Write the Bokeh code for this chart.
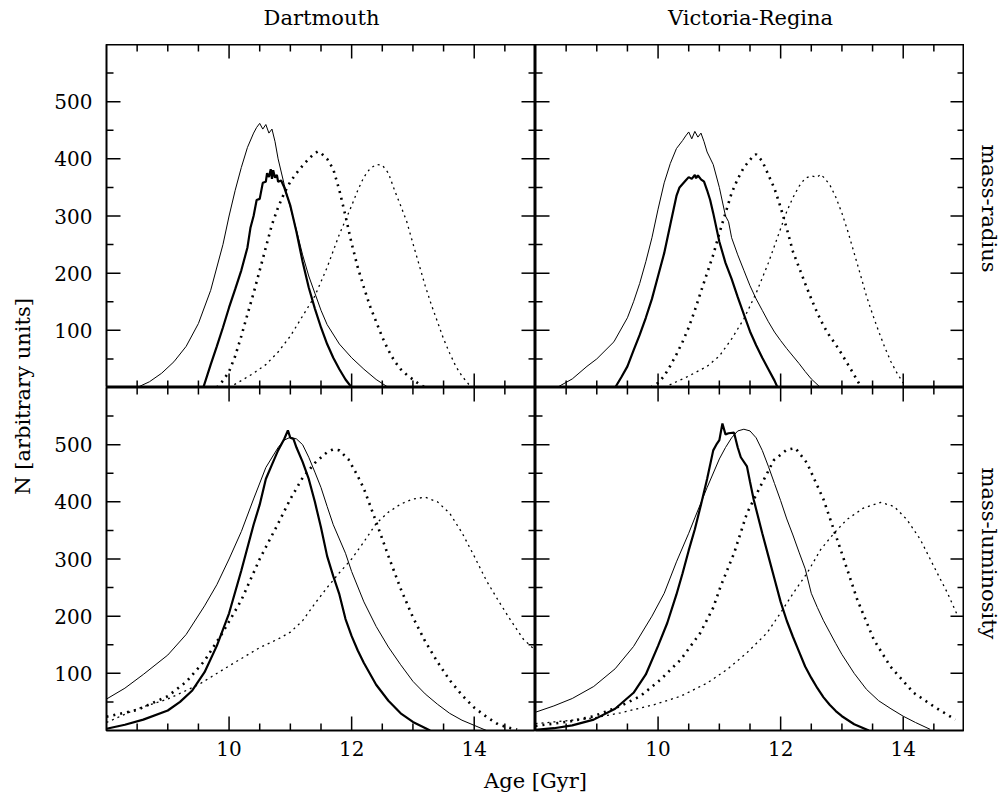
import math
from bokeh.plotting import figure
from bokeh.layouts import row, column
from bokeh.models import FixedTicker, LinearAxis, Range1d, Label
from bokeh.embed import file_html
from bokeh.resources import INLINE

FONT = "DejaVu Serif"

# ---------------- axes ----------------
X_START, X_END = 8, 15
Y_START, Y_END = 0, 600
X_MAJOR = [10, 12, 14]
X_MINOR = [8.5, 9, 9.5, 10.5, 11, 11.5, 12.5, 13, 13.5, 14.5]
Y_MAJOR = [100, 200, 300, 400, 500]
Y_MINOR = [50, 150, 250, 350, 450, 550]

# ---------------- Dartmouth, mass-radius ----------------
dmr_thin_age = [8.5, 8.7, 8.9, 9.1, 9.3, 9.5, 9.7, 9.9, 10.0, 10.1, 10.2, 10.3, 10.4, 10.45, 10.5, 10.55,
                10.6, 10.65, 10.7, 10.75, 10.8, 10.9, 11.0, 11.1, 11.2, 11.3, 11.4, 11.5, 11.6, 11.8, 12.0,
                12.2, 12.4, 12.6]
dmr_thin_n = [0, 10, 25, 45, 72, 112, 170, 250, 300, 345, 385, 420, 445, 455, 462, 452,
              460, 445, 452, 430, 400, 355, 315, 275, 232, 195, 165, 135, 110, 76, 52,
              32, 14, 0]
dmr_thick_age = [9.58, 9.7, 9.8, 9.9, 10.0, 10.1, 10.2, 10.3, 10.35, 10.4, 10.45, 10.5, 10.55, 10.6, 10.62,
                 10.65, 10.68, 10.7, 10.72, 10.75, 10.78, 10.8, 10.85, 10.9, 11.0, 11.1, 11.2, 11.3, 11.4,
                 11.5, 11.6, 11.7, 11.8, 11.9, 12.0]
dmr_thick_n = [0, 40, 72, 105, 140, 172, 205, 245, 280, 300, 328, 330, 358, 360, 375,
               368, 382, 365, 380, 367, 372, 360, 362, 350, 318, 272, 220, 175, 138,
               105, 76, 52, 32, 14, 0]
dmr_thickdot_age = [9.8, 9.9, 10.0, 10.1, 10.2, 10.3, 10.4, 10.5, 10.6, 10.7, 10.8, 10.9, 11.0, 11.1, 11.2,
                    11.3, 11.4, 11.45, 11.5, 11.6, 11.7, 11.8, 11.9, 12.0, 12.1, 12.2, 12.3, 12.4, 12.5,
                    12.6, 12.7, 12.8, 12.9, 13.0, 13.1, 13.2]
dmr_thickdot_n = [0, 12, 28, 55, 90, 128, 165, 205, 245, 285, 315, 340, 360, 375, 388,
                  400, 410, 413, 410, 400, 382, 345, 300, 252, 210, 175, 142, 115, 88,
                  65, 46, 32, 22, 14, 6, 0]
dmr_thindot_age = [10.0, 10.2, 10.4, 10.6, 10.8, 11.0, 11.2, 11.4, 11.6, 11.8, 12.0, 12.1, 12.2, 12.3, 12.4,
                   12.5, 12.6, 12.7, 12.8, 12.9, 13.0, 13.1, 13.2, 13.3, 13.4, 13.5, 13.6, 13.7, 13.8,
                   13.9, 13.95]
dmr_thindot_n = [0, 12, 25, 40, 62, 90, 125, 160, 210, 268, 318, 345, 368, 383, 390,
                 389, 375, 345, 318, 290, 252, 215, 178, 145, 115, 85, 60, 37, 20,
                 7, 0]

# ---------------- Dartmouth, mass-luminosity ----------------
dml_thin_age = [8.0, 8.3, 8.6, 9.0, 9.3, 9.6, 9.8, 10.0, 10.2, 10.4, 10.6, 10.8, 10.9, 11.0, 11.1, 11.2,
                11.3, 11.4, 11.5, 11.6, 11.7, 11.8, 11.9, 12.0, 12.2, 12.4, 12.6, 12.8, 13.0, 13.2, 13.4,
                13.6, 13.8, 14.0, 14.2]
dml_thin_n = [55, 74, 98, 132, 168, 218, 255, 300, 348, 405, 460, 495, 508, 513, 510, 500,
              478, 452, 425, 392, 360, 335, 310, 278, 225, 182, 146, 115, 86, 64, 46,
              30, 18, 9, 0]
dml_thick_age = [8.0, 8.3, 8.6, 9.0, 9.2, 9.4, 9.6, 9.8, 10.0, 10.2, 10.4, 10.5, 10.6, 10.7, 10.8, 10.9,
                 10.96, 11.0, 11.05, 11.1, 11.2, 11.3, 11.4, 11.5, 11.6, 11.7, 11.8, 11.9, 12.0, 12.1,
                 12.2, 12.4, 12.6, 12.8, 13.0, 13.28]
dml_thick_n = [3, 10, 19, 35, 50, 70, 102, 148, 205, 280, 360, 395, 440, 465, 490, 510,
               525, 512, 510, 495, 470, 440, 400, 355, 305, 270, 238, 195, 165, 140,
               118, 80, 52, 30, 15, 0]
dml_thickdot_age = [8.0, 8.5, 9.0, 9.3, 9.6, 9.9, 10.2, 10.5, 10.8, 11.0, 11.2, 11.4, 11.6, 11.7, 11.8,
                    11.95, 12.1, 12.2, 12.4, 12.6, 12.8, 13.0, 13.2, 13.4, 13.6, 13.8, 14.0, 14.2, 14.4,
                    14.6, 14.7]
dml_thickdot_n = [24, 36, 60, 85, 122, 172, 228, 300, 362, 405, 442, 468, 487, 492, 490,
                  474, 445, 423, 365, 305, 248, 198, 156, 120, 88, 62, 40, 24, 10,
                  4, 2]
dml_thindot_age = [8.0, 8.5, 9.0, 9.5, 10.0, 10.5, 10.8, 11.0, 11.2, 11.4, 11.6, 11.8, 12.0, 12.2, 12.4,
                   12.6, 12.8, 13.0, 13.2, 13.4, 13.6, 13.8, 14.0, 14.2, 14.4, 14.6, 14.8, 15.0]
dml_thindot_n = [14, 38, 55, 80, 113, 145, 160, 172, 192, 222, 250, 276, 300, 330, 362,
                 382, 396, 405, 408, 400, 380, 346, 305, 262, 226, 192, 160, 140]

# ---------------- Victoria-Regina, mass-radius ----------------
vmr_thin_age = [8.35, 8.6, 8.84, 9.0, 9.28, 9.5, 9.6, 9.7, 9.8, 9.9, 10.0, 10.1, 10.2, 10.3, 10.4, 10.45,
                10.5, 10.55, 10.6, 10.65, 10.7, 10.75, 10.8, 10.9, 11.0, 11.1, 11.15, 11.2, 11.3, 11.4,
                11.5, 11.6, 11.7, 11.8, 11.9, 12.0, 12.1, 12.2, 12.3, 12.4, 12.5, 12.65]
vmr_thin_n = [0, 15, 37, 50, 80, 122, 150, 182, 220, 262, 312, 358, 392, 418, 432, 440,
              447, 435, 448, 438, 445, 430, 412, 390, 350, 300, 290, 262, 232, 205,
              178, 155, 135, 115, 97, 82, 68, 55, 42, 28, 15, 0]
vmr_thick_age = [9.3, 9.4, 9.5, 9.6, 9.7, 9.8, 9.9, 10.0, 10.1, 10.2, 10.3, 10.35, 10.4, 10.45, 10.5,
                 10.55, 10.6, 10.62, 10.65, 10.7, 10.75, 10.8, 10.85, 10.9, 11.0, 11.1, 11.2, 11.3, 11.4,
                 11.5, 11.6, 11.7, 11.8, 11.9, 11.95]
vmr_thick_n = [0, 18, 37, 65, 92, 122, 155, 195, 235, 285, 335, 350, 356, 362, 368,
               365, 372, 366, 371, 364, 360, 345, 328, 305, 255, 218, 190, 158, 128,
               98, 74, 52, 32, 12, 0]
vmr_thickdot_age = [9.88, 10.0, 10.1, 10.2, 10.3, 10.4, 10.5, 10.6, 10.7, 10.8, 10.9, 11.0, 11.1, 11.2,
                    11.3, 11.4, 11.5, 11.55, 11.6, 11.65, 11.7, 11.8, 11.9, 12.0, 12.1, 12.2, 12.3, 12.4,
                    12.5, 12.6, 12.7, 12.8, 12.9, 13.0, 13.1, 13.2, 13.3]
vmr_thickdot_n = [0, 8, 20, 38, 58, 80, 105, 135, 168, 200, 232, 270, 305, 340,
                  365, 385, 398, 405, 408, 402, 396, 372, 348, 315, 278, 238, 210, 182,
                  155, 130, 108, 90, 75, 58, 40, 22, 3]
vmr_thindot_age = [10.1, 10.3, 10.5, 10.8, 11.0, 11.2, 11.4, 11.6, 11.8, 12.0, 12.1, 12.2, 12.3, 12.4,
                   12.5, 12.6, 12.65, 12.7, 12.8, 12.9, 13.0, 13.1, 13.2, 13.3, 13.4, 13.5, 13.6, 13.7,
                   13.8, 13.9, 14.0, 14.06]
vmr_thindot_n = [0, 10, 20, 37, 55, 85, 120, 165, 218, 278, 308, 332, 352, 366,
                 370, 368, 373, 368, 355, 333, 305, 272, 235, 198, 160, 128, 98, 70,
                 45, 25, 8, 0]

# ---------------- Victoria-Regina, mass-luminosity ----------------
vml_thin_age = [8.0, 8.3, 8.6, 8.95, 9.3, 9.6, 9.9, 10.1, 10.3, 10.5, 10.6, 10.8, 11.0, 11.1, 11.2, 11.3,
                11.4, 11.5, 11.6, 11.7, 11.8, 11.9, 12.0, 12.1, 12.2, 12.3, 12.4, 12.5, 12.6, 12.7, 12.8,
                12.9, 13.0, 13.2, 13.4, 13.6, 13.8, 14.0, 14.2, 14.44]
vml_thin_n = [32, 43, 56, 77, 108, 147, 200, 240, 295, 345, 372, 425, 475, 495, 512, 524,
              527, 524, 512, 490, 462, 432, 402, 370, 342, 312, 283, 240, 215, 192, 172,
              152, 133, 100, 72, 52, 38, 25, 14, 2]
vml_thick_age = [8.0, 8.3, 8.6, 8.95, 9.3, 9.6, 9.8, 10.0, 10.15, 10.3, 10.4, 10.5, 10.6, 10.7, 10.8,
                 10.9, 10.95, 11.0, 11.05, 11.1, 11.15, 11.24, 11.3, 11.35, 11.45, 11.5, 11.56, 11.7,
                 11.8, 11.9, 12.0, 12.1, 12.2, 12.3, 12.4, 12.5, 12.6, 12.7, 12.8, 12.9, 13.0, 13.2,
                 13.44]
vml_thick_n = [1, 4, 9, 19, 38, 66, 98, 148, 188, 238, 275, 315, 352, 395, 440,
               490, 500, 508, 537, 518, 520, 521, 495, 478, 462, 435, 404, 345,
               305, 265, 225, 192, 164, 138, 112, 92, 74, 58, 45, 34, 25, 11,
               0]
vml_thickdot_age = [8.0, 8.57, 8.95, 9.39, 9.71, 10.04, 10.37, 10.69, 10.9, 11.02, 11.24, 11.45, 11.67,
                    11.89, 12.1, 12.24, 12.43, 12.7, 12.98, 13.25, 13.52, 13.79, 14.17, 14.5, 14.85]
vml_thickdot_n = [8, 16, 25, 43, 60, 89, 124, 171, 215, 252, 310, 380, 427,
                  473, 491, 494, 468, 404, 316, 229, 159, 112, 66, 42, 19]
vml_thindot_age = [8.0, 8.5, 8.95, 9.39, 9.93, 10.37, 10.8, 11.13, 11.45, 11.78, 12.0, 12.21, 12.43,
                   12.65, 12.87, 13.08, 13.35, 13.63, 13.85, 14.06, 14.28, 14.5, 14.72, 14.87]
vml_thindot_n = [12, 17, 22, 31, 45, 60, 83, 107, 136, 171, 206, 241, 275,
                 316, 345, 369, 389, 399, 392, 369, 334, 287, 241, 205]

panel_titles_top = ["Dartmouth", "Victoria-Regina"]
panel_titles_right = ["mass-radius", "mass-luminosity"]
x_label = "Age [Gyr]"
y_label = "N [arbitrary units]"

THIN = dict(line_color="black", line_width=1.0)
THICK = dict(line_color="black", line_width=2.2)
THICKDOT = dict(line_color="black", line_width=2.6, line_dash="2 5")
THINDOT = dict(line_color="black", line_width=1.3, line_dash="2 4")
TICK = dict(line_color="black", line_width=1.5)
TEXT = dict(text_font=FONT, text_font_size="21px", text_color="black",
            text_align="center", text_baseline="middle")

FRAME_W, FRAME_H = 429, 343
MAJOR_PX = 14
MINOR_PX = 7


def add_ticks(p):
    """Inward tick marks on all four sides, one short line per tick, lengths in pixels."""
    dx = (X_END - X_START) / FRAME_W
    dy = (Y_END - Y_START) / FRAME_H
    for ticks, px in ((X_MAJOR, MAJOR_PX), (X_MINOR, MINOR_PX)):
        for t in ticks:
            p.line([t, t], [Y_START, Y_START + px * dy], **TICK)
            p.line([t, t], [Y_END, Y_END - px * dy], **TICK)
    for ticks, px in ((Y_MAJOR, MAJOR_PX), (Y_MINOR, MINOR_PX)):
        for t in ticks:
            p.line([X_START, X_START + px * dx], [t, t], **TICK)
            p.line([X_END, X_END - px * dx], [t, t], **TICK)


def make_panel(show_left, show_bottom):
    p = figure(frame_width=FRAME_W, frame_height=FRAME_H, x_range=Range1d(X_START, X_END),
               y_range=Range1d(Y_START, Y_END), output_backend="svg", toolbar_location=None,
               x_axis_type=None, y_axis_type=None, min_border=0)
    p.min_border_left = 60 if show_left else 0
    p.min_border_bottom = 38 if show_bottom else 0
    p.outline_line_color = "black"
    p.outline_line_width = 2
    if show_left:
        ax = LinearAxis(ticker=FixedTicker(ticks=Y_MAJOR))
        ax.major_label_standoff = 14
        p.add_layout(ax, "left")
    if show_bottom:
        ax = LinearAxis(ticker=FixedTicker(ticks=X_MAJOR))
        ax.major_label_standoff = 10
        p.add_layout(ax, "below")
    for ax in p.axis:
        ax.major_tick_in = 0
        ax.major_tick_out = 0
        ax.minor_tick_in = 0
        ax.minor_tick_out = 0
        ax.axis_line_color = None
        ax.major_tick_line_color = None
        ax.minor_tick_line_color = None
        ax.major_label_text_font = FONT
        ax.major_label_text_font_size = "20px"
        ax.major_label_text_color = "black"
    return p


def add_curves(p, thin, thick, thickdot, thindot):
    p.line(thin[0], thin[1], **THIN)
    p.line(thick[0], thick[1], **THICK)
    p.line(thickdot[0], thickdot[1], **THICKDOT)
    p.line(thindot[0], thindot[1], **THINDOT)


def text_fig(w, h):
    f = figure(width=w, height=h, output_backend="svg", toolbar_location=None,
               x_axis_type=None, y_axis_type=None, min_border=0,
               x_range=Range1d(0, 1), y_range=Range1d(0, 1))
    f.outline_line_color = None
    return f


TL = make_panel(True, False)
TR = make_panel(False, False)
BL = make_panel(True, True)
BR = make_panel(False, True)

add_curves(TL, (dmr_thin_age, dmr_thin_n), (dmr_thick_age, dmr_thick_n),
           (dmr_thickdot_age, dmr_thickdot_n), (dmr_thindot_age, dmr_thindot_n))
add_curves(BL, (dml_thin_age, dml_thin_n), (dml_thick_age, dml_thick_n),
           (dml_thickdot_age, dml_thickdot_n), (dml_thindot_age, dml_thindot_n))
add_curves(TR, (vmr_thin_age, vmr_thin_n), (vmr_thick_age, vmr_thick_n),
           (vmr_thickdot_age, vmr_thickdot_n), (vmr_thindot_age, vmr_thindot_n))
add_curves(BR, (vml_thin_age, vml_thin_n), (vml_thick_age, vml_thick_n),
           (vml_thickdot_age, vml_thickdot_n), (vml_thindot_age, vml_thindot_n))

for panel in (TL, TR, BL, BR):
    add_ticks(panel)

# column titles
topfig = text_fig(1004, 44)
topfig.add_layout(Label(x=321, y=27, x_units="screen", y_units="screen", text=panel_titles_top[0], **TEXT))
topfig.add_layout(Label(x=750, y=27, x_units="screen", y_units="screen", text=panel_titles_top[1], **TEXT))

# y label
yfig = text_fig(46, 724)
yfig.add_layout(Label(x=22, y=372, x_units="screen", y_units="screen", text=y_label,
                      angle=math.pi / 2, **TEXT))

# row labels on the right
rfig = text_fig(40, 724)
rfig.add_layout(Label(x=24, y=560, x_units="screen", y_units="screen", text=panel_titles_right[0],
                      angle=-math.pi / 2, **TEXT))
rfig.add_layout(Label(x=24, y=215, x_units="screen", y_units="screen", text=panel_titles_right[1],
                      angle=-math.pi / 2, **TEXT))

# x label
xfig = text_fig(1004, 25)
xfig.add_layout(Label(x=535, y=13, x_units="screen", y_units="screen", text=x_label, **TEXT))

grid = column(row(TL, TR), row(BL, BR))
layout = column(topfig, row(yfig, grid, rfig), xfig)

open("out.html", "w").write(file_html(layout, INLINE))
